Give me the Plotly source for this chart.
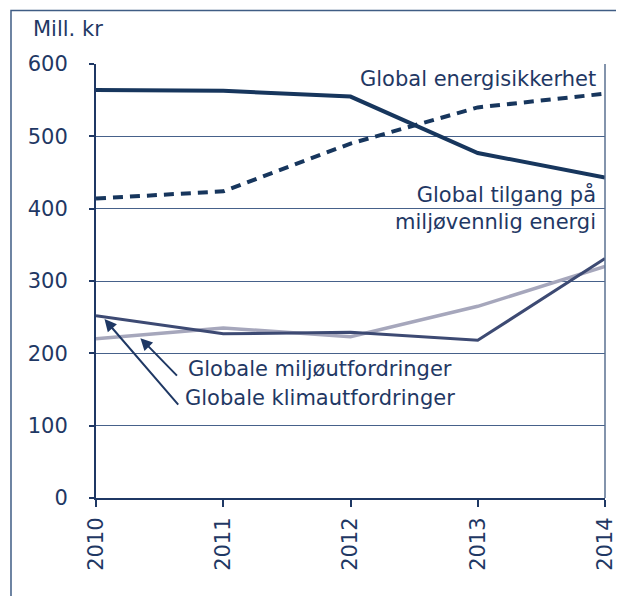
import plotly.graph_objects as go

years = [2010, 2011, 2012, 2013, 2014]
energisikkerhet = [564, 563, 555, 477, 443]
tilgang_miljovennlig = [414, 424, 490, 540, 559]
klimautfordringer = [252, 227, 229, 218, 331]
miljoutfordringer = [220, 235, 223, 265, 320]
y_ticks = [0, 100, 200, 300, 400, 500, 600]

NAVY = "#1f3864"
FONT = "DejaVu Sans"
FS = 21

fig = go.Figure()
fig.add_trace(go.Scatter(x=years, y=miljoutfordringer, mode="lines",
                         line=dict(color="#a6a7bc", width=3.5), name="Globale miljøutfordringer"))
fig.add_trace(go.Scatter(x=years, y=klimautfordringer, mode="lines",
                         line=dict(color="#3d4a73", width=3), name="Globale klimautfordringer"))
fig.add_trace(go.Scatter(x=years, y=tilgang_miljovennlig, mode="lines",
                         line=dict(color="#17365d", width=4, dash="10px,7px"),
                         name="Global tilgang på miljøvennlig energi"))
fig.add_trace(go.Scatter(x=years, y=energisikkerhet, mode="lines",
                         line=dict(color="#17365d", width=4), name="Global energisikkerhet"))

fig.update_layout(
    width=616, height=588,
    margin=dict(l=88, r=19, t=56, b=98, autoexpand=False),
    paper_bgcolor="white", plot_bgcolor="white",
    showlegend=False,
    font=dict(family=FONT, size=FS, color=NAVY),
    xaxis=dict(range=[2010, 2014], tickvals=years, ticktext=[str(y) for y in years],
               tickangle=-90, ticks="outside", ticklen=7, tickcolor=NAVY, tickwidth=1.5,
               showgrid=False, zeroline=False, showline=True, linecolor=NAVY, linewidth=2,
               automargin=False, ticklabelstandoff=2,
               tickfont=dict(family=FONT, size=FS, color=NAVY)),
    yaxis=dict(range=[0, 600], tickvals=y_ticks, ticks="outside", ticklen=5,
               tickcolor=NAVY, tickwidth=1.5,
               showgrid=True, gridcolor="#46618a", gridwidth=1, zeroline=False,
               showline=True, linecolor=NAVY, linewidth=2,
               automargin=False, ticklabelstandoff=17,
               tickfont=dict(family=FONT, size=FS, color=NAVY)),
)

# right border of plot area
fig.add_shape(type="line", xref="paper", yref="paper", x0=1, x1=1, y0=0, y1=1,
              line=dict(color="#5a7191", width=1.5))
# outer frame
fig.add_shape(type="rect", xref="paper", yref="paper", x0=-0.167, x1=1.2, y0=-0.4, y1=1.123,
              line=dict(color="#3f5c84", width=1.5), layer="below")

anns = [
    dict(text="Mill. kr", xref="paper", yref="paper", x=-0.1277, y=1.081,
         xanchor="left", yanchor="middle", showarrow=False),
    dict(text="Global energisikkerhet", x=2013.944, y=579, xanchor="right",
         yanchor="middle", showarrow=False),
    dict(text="Global tilgang på<br>miljøvennlig energi", x=2013.944, y=401,
         xanchor="right", yanchor="middle", align="right", showarrow=False),
    dict(text="Globale miljøutfordringer", x=2010.71, y=178, xanchor="left",
         yanchor="middle", showarrow=False),
    dict(text="Globale klimautfordringer", x=2010.687, y=138, xanchor="left",
         yanchor="middle", showarrow=False),
    dict(text="", x=2010.349, y=221, ax=38, ay=39, showarrow=True,
         arrowhead=2, arrowsize=1.2, arrowwidth=2, arrowcolor=NAVY, standoff=0),
    dict(text="", x=2010.067, y=247.3, ax=75, ay=87, showarrow=True,
         arrowhead=2, arrowsize=1.2, arrowwidth=2, arrowcolor=NAVY, standoff=0),
]
for a in anns:
    fig.add_annotation(**a)

fig.write_html("out.html")
